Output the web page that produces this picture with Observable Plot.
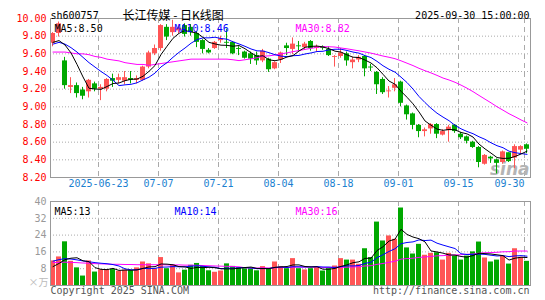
<!DOCTYPE html>
<html><head><meta charset="utf-8">
<script src="https://cdn.jsdelivr.net/npm/d3@7"></script>
<script src="https://cdn.jsdelivr.net/npm/@observablehq/plot@0.6"></script>
<style>
html,body{margin:0;padding:0;background:#fff;}
#wrap{position:relative;width:545px;height:300px;overflow:hidden;background:#fff;}
#wrap svg{position:absolute;left:0;}
</style></head><body><div id="wrap"></div>
<script>
const dates = ["06-11","06-12","06-13","06-16","06-17","06-18","06-19","06-20","06-23","06-24","06-25","06-26","06-27","06-30",
"07-01","07-02","07-03","07-04","07-07","07-08","07-09","07-10","07-11","07-14","07-15","07-16","07-17","07-18","07-21","07-22","07-23","07-24","07-25","07-28","07-29","07-30","07-31",
"08-01","08-04","08-05","08-06","08-07","08-08","08-11","08-12","08-13","08-14","08-15","08-18","08-19","08-20","08-21","08-22","08-25","08-26","08-27","08-28","08-29",
"09-01","09-02","09-03","09-04","09-05","09-08","09-09","09-10","09-11","09-12","09-15","09-16","09-17","09-18","09-19","09-22","09-23","09-24","09-25","09-26","09-29","09-30"];
const open = [9.72,9.83,9.52,9.22,9.24,9.19,9.17,9.26,9.20,9.20,9.32,9.30,9.29,9.32,9.30,9.30,9.45,9.60,9.66,9.90,
9.84,9.86,9.92,9.90,9.83,9.75,9.64,9.66,9.75,9.73,9.73,9.66,9.62,9.60,9.58,9.52,9.54,9.43,9.53,9.69,
9.65,9.69,9.67,9.74,9.66,9.68,9.65,9.56,9.57,9.60,9.50,9.53,9.57,9.45,9.39,9.31,9.17,9.21,9.28,9.01,
8.92,8.79,8.72,8.75,8.80,8.68,8.73,8.79,8.69,8.66,8.60,8.54,8.35,8.43,8.40,8.37,8.48,8.42,8.51,8.57];
const high = [9.84,9.96,9.56,9.33,9.27,9.22,9.31,9.28,9.25,9.32,9.37,9.37,9.40,9.40,9.35,9.46,9.63,9.70,9.93,9.93,
9.98,9.93,9.94,9.93,9.85,9.76,9.66,9.74,9.80,9.88,9.74,9.68,9.63,9.62,9.62,9.65,9.55,9.51,9.62,9.72,
9.78,9.74,9.73,9.75,9.70,9.69,9.68,9.58,9.66,9.62,9.56,9.58,9.58,9.48,9.40,9.33,9.23,9.32,9.29,9.02,
8.93,8.80,8.76,8.81,8.81,8.74,8.79,8.80,8.71,8.67,8.61,8.55,8.46,8.44,8.41,8.50,8.48,8.57,8.56,8.58];
const low = [9.68,9.79,9.20,9.15,9.10,9.08,9.10,9.17,9.07,9.17,9.22,9.26,9.25,9.26,9.26,9.29,9.43,9.58,9.63,9.75,
9.80,9.83,9.79,9.80,9.67,9.60,9.60,9.65,9.72,9.66,9.59,9.58,9.54,9.48,9.47,9.50,9.39,9.42,9.49,9.58,
9.59,9.63,9.64,9.63,9.62,9.64,9.57,9.45,9.55,9.46,9.43,9.50,9.34,9.40,9.14,9.14,9.10,9.17,9.00,8.85,
8.74,8.65,8.66,8.69,8.64,8.67,8.60,8.70,8.63,8.58,8.53,8.31,8.34,8.36,8.24,8.35,8.37,8.30,8.47,8.47];
const close = [9.83,9.94,9.24,9.24,9.15,9.12,9.30,9.20,9.22,9.31,9.29,9.33,9.33,9.30,9.32,9.45,9.61,9.66,9.92,9.79,
9.90,9.89,9.82,9.84,9.73,9.65,9.61,9.73,9.77,9.72,9.60,9.65,9.55,9.54,9.52,9.63,9.42,9.50,9.61,9.66,
9.71,9.68,9.71,9.66,9.68,9.66,9.58,9.57,9.61,9.52,9.53,9.56,9.43,9.44,9.25,9.16,9.18,9.25,9.04,8.91,
8.79,8.72,8.74,8.80,8.69,8.72,8.77,8.72,8.65,8.61,8.54,8.37,8.45,8.41,8.36,8.49,8.38,8.55,8.55,8.52];
const volume = [11.7,13.6,20.8,11.5,8.4,4.5,11.7,6.4,7.5,7.6,7.6,6.8,7.3,7.0,8.4,11.2,10.3,8.0,13.3,8.0,
9.7,6.0,7.3,9.6,10.5,9.0,7.0,6.3,6.9,10.3,9.1,8.5,8.0,8.0,7.0,9.0,8.0,11.2,9.0,8.0,
12.8,8.0,7.4,8.0,8.5,6.9,8.0,9.3,12.8,12.1,12.1,10.1,17.5,13.3,30.2,21.2,23.6,22.0,36.9,17.9,
15.0,19.6,14.4,15.3,15.6,12.1,15.3,14.0,12.1,14.0,16.0,20.7,13.1,11.2,12.1,14.0,10.2,17.5,13.4,11.5];
const ma5 = [9.73,9.75,9.70,9.61,9.480,9.338,9.210,9.202,9.198,9.230,9.264,9.270,9.296,9.312,9.314,9.346,9.402,9.468,9.592,9.686,
9.776,9.832,9.864,9.848,9.836,9.786,9.730,9.712,9.698,9.696,9.686,9.694,9.658,9.612,9.572,9.578,9.532,9.522,9.536,9.564,
9.580,9.632,9.674,9.684,9.688,9.678,9.658,9.630,9.620,9.588,9.562,9.558,9.530,9.496,9.442,9.368,9.292,9.256,9.176,9.108,
9.034,8.942,8.840,8.792,8.748,8.734,8.744,8.740,8.710,8.694,8.658,8.578,8.524,8.476,8.426,8.416,8.418,8.438,8.466,8.498];
const ma10 = [9.71,9.73,9.71,9.67,9.62,9.56,9.50,9.45,9.40,9.355,9.301,9.240,9.249,9.255,9.272,9.305,9.336,9.382,9.452,9.500,
9.561,9.617,9.666,9.720,9.761,9.781,9.781,9.788,9.773,9.766,9.736,9.712,9.685,9.655,9.634,9.632,9.613,9.590,9.574,9.568,
9.579,9.582,9.598,9.610,9.626,9.629,9.645,9.652,9.652,9.638,9.620,9.608,9.580,9.558,9.515,9.465,9.425,9.393,9.336,9.275,
9.201,9.117,9.048,8.984,8.928,8.884,8.843,8.790,8.751,8.721,8.696,8.661,8.632,8.593,8.560,8.537,8.498,8.481,8.471,8.462];
const ma30 = [9.62,9.62,9.62,9.61,9.60,9.60,9.59,9.57,9.56,9.54,9.53,9.52,9.50,9.49,9.48,9.48,9.47,9.48,9.49,9.50,
9.51,9.52,9.53,9.54,9.54,9.54,9.54,9.54,9.54,9.540,9.533,9.523,9.533,9.543,9.556,9.573,9.577,9.587,9.600,9.611,
9.625,9.637,9.650,9.662,9.674,9.681,9.680,9.677,9.666,9.657,9.645,9.634,9.621,9.608,9.592,9.575,9.561,9.545,9.521,9.494,
9.467,9.436,9.409,9.384,9.356,9.326,9.304,9.278,9.246,9.211,9.172,9.129,9.087,9.045,9.001,8.962,8.922,8.888,8.852,8.819];
const vma5 = [9.0,10.5,12.3,13.0,13.20,11.76,11.38,8.50,7.70,7.54,8.16,7.18,7.36,7.26,7.42,8.14,8.84,8.98,10.24,10.16,
9.86,9.00,8.86,8.12,8.62,8.48,8.68,8.48,7.94,7.90,7.92,8.22,8.56,8.78,8.12,8.10,8.00,8.64,8.84,9.04,
9.80,9.80,9.04,8.84,8.94,7.76,7.76,8.14,9.10,9.82,10.86,11.28,12.92,13.02,16.64,18.46,21.16,22.06,26.78,24.32,
23.08,22.28,20.76,16.44,15.98,15.40,14.54,14.46,13.82,13.50,14.28,15.36,15.18,15.00,14.62,14.22,12.12,13.00,13.44,13.32];
const vma10 = [11.6,12.3,12.8,12.6,12.2,11.7,11.3,10.9,10.6,10.37,9.96,9.28,7.93,7.48,7.48,8.15,8.01,8.17,8.75,8.79,
9.00,8.92,8.92,9.18,9.39,9.17,8.84,8.67,8.03,8.26,8.20,8.45,8.52,8.36,8.01,8.01,8.11,8.60,8.81,8.58,
8.95,8.90,8.84,8.84,8.99,8.78,8.78,8.59,8.97,9.38,9.31,9.52,10.53,11.06,13.23,14.66,16.22,17.49,19.90,20.48,
20.77,21.72,21.41,21.61,20.15,19.24,18.41,17.61,15.13,14.74,14.84,14.95,14.82,14.41,14.06,14.25,13.74,14.09,14.22,13.97];
const vma30 = [10.9,11.0,11.1,11.0,10.9,10.7,10.6,10.4,10.3,10.2,10.1,10.1,10.0,10.0,9.9,9.9,9.9,9.9,9.9,9.8,
9.8,9.8,9.7,9.7,9.6,9.5,9.4,9.3,9.2,9.14,9.05,8.88,8.46,8.34,8.29,8.44,8.32,8.48,8.53,8.54,
8.72,8.76,8.76,8.79,8.80,8.65,8.58,8.62,8.60,8.74,8.82,8.96,9.30,9.42,10.08,10.48,11.04,11.56,12.56,12.81,
13.01,13.38,13.59,13.84,14.12,14.23,14.47,14.56,14.67,14.87,14.97,15.40,15.59,15.69,15.81,16.05,16.12,16.40,16.42,16.40];
const priceTicks = [8.2,8.4,8.6,8.8,9.0,9.2,9.4,9.6,9.8,10.0];
const volTicks = [8,16,24,32,40];
const dateTickIdx = [8,18,28,38,48,58,68,79];
const dateTickLabels = ["2025-06-23","07-07","07-21","08-04","08-18","09-01","09-15","09-30"];

const UP = "#ff5555", DOWN = "#00a800";
const mono = "'DejaVu Sans Mono', 'Liberation Mono', monospace";
const cjk = "'Noto Sans CJK SC', sans-serif";
const rows = dates.map((d, i) => ({i, date: d, o: open[i], h: high[i], l: low[i], c: close[i], v: volume[i],
  col: close[i] >= open[i] ? UP : DOWN}));
const W = 5/6, C = 2/6, M = 0.42;
const lineSeries = (arr, color) => Plot.line(arr.map((v, i) => ({i, v})), {x: d => d.i + M, y: "v", stroke: color, strokeWidth: 1});
const one = [0];

const price = Plot.plot({
  width: 545, height: 190, marginLeft: 50, marginRight: 15, marginTop: 18, marginBottom: 13,
  x: {domain: [0, 80], axis: null},
  y: {domain: [8.2, 10.0], axis: null},
  color: {type: "identity"},
  style: {fontFamily: mono, fontSize: "10px", background: "transparent", overflow: "visible"},
  marks: [
    Plot.ruleY(priceTicks.slice(1, -1), {stroke: "#aaa", strokeDasharray: "1,2"}),
    Plot.ruleX(dateTickIdx, {x: d => d, stroke: "#aaa", strokeDasharray: "5,4"}),
    Plot.text(one, {frameAnchor: "bottom-right", dx: -1, dy: -3, text: () => "sina", fontSize: 17, fontStyle: "italic", fontWeight: "bold", fontFamily: "'DejaVu Sans', sans-serif", fill: "#b4b4b4"}),
    Plot.ruleX(rows, {x: d => d.i + C, y1: "l", y2: "h", stroke: "col"}),
    Plot.rect(rows, {x1: d => d.i, x2: d => d.i + W, y1: d => Math.min(d.o, d.c), y2: d => Math.max(d.o, d.c), fill: "col"}),
    lineSeries(ma30, "#ff00ff"),
    lineSeries(ma10, "#0000ff"),
    lineSeries(ma5, "#000000"),
    Plot.frame({stroke: "#999"}),
    Plot.text(priceTicks, {y: d => d, frameAnchor: "left", dx: -4, textAnchor: "end", text: d => d.toFixed(2), fill: "#ff0000"}),
    Plot.text(dateTickIdx.slice(0, -1), {x: d => d, frameAnchor: "bottom", dy: 9, text: (d, i) => dateTickLabels[i], fill: "#1b7fd0"}),
    Plot.text([dateTickIdx[dateTickIdx.length - 1]], {x: d => d, frameAnchor: "bottom", dy: 9, textAnchor: "end", text: () => dateTickLabels[dateTickLabels.length - 1], fill: "#1b7fd0"}),
    Plot.text(one, {frameAnchor: "top-left", dy: -7, text: () => "sh600757", fill: "#000"}),
    Plot.text(one, {frameAnchor: "top-left", dx: 72, dy: -7, text: () => "长江传媒 - 日K线图", fontFamily: cjk, fontSize: 12, fill: "#000"}),
    Plot.text(one, {frameAnchor: "top-right", dx: -1, dy: -7, text: () => "2025-09-30 15:00:00", fill: "#000"}),
    Plot.text(one, {frameAnchor: "top-left", dx: 4, dy: 6, text: () => "MA5:" + ma5[ma5.length - 1].toFixed(2), fill: "#000"}),
    Plot.text(one, {frameAnchor: "top-left", dx: 124, dy: 6, text: () => "MA10:" + ma10[ma10.length - 1].toFixed(2), fill: "#0000ff"}),
    Plot.text(one, {frameAnchor: "top-left", dx: 245, dy: 6, text: () => "MA30:" + ma30[ma30.length - 1].toFixed(2), fill: "#ff00ff"})
  ]
});
price.style.top = "0px";

const vol = Plot.plot({
  width: 545, height: 110, marginLeft: 50, marginRight: 15, marginTop: 11, marginBottom: 15,
  x: {domain: [0, 80], axis: null},
  y: {domain: [0, 40], axis: null},
  color: {type: "identity"},
  style: {fontFamily: mono, fontSize: "10px", background: "transparent", overflow: "visible"},
  marks: [
    Plot.ruleY(volTicks.slice(0, -1), {stroke: "#aaa", strokeDasharray: "1,2"}),
    Plot.ruleX(dateTickIdx, {x: d => d, stroke: "#aaa", strokeDasharray: "5,4"}),
    Plot.rect(rows, {x1: d => d.i, x2: d => d.i + W, y1: 0, y2: "v", fill: "col"}),
    lineSeries(vma30, "#ff00ff"),
    lineSeries(vma10, "#0000ff"),
    lineSeries(vma5, "#000000"),
    Plot.frame({stroke: "#999"}),
    Plot.text(volTicks, {y: d => d, frameAnchor: "left", dx: -4, textAnchor: "end", text: d => String(d), fill: "#999"}),
    Plot.text(one, {frameAnchor: "bottom-left", dx: -22, dy: 0, text: () => "×万", fontFamily: cjk, fontSize: 10, fill: "#bbb"}),
    Plot.text(one, {frameAnchor: "bottom-left", dy: 8, text: () => "Copyright 2025 SINA.COM", fill: "#555"}),
    Plot.text(one, {frameAnchor: "bottom-right", dx: -1, dy: 8, textAnchor: "end", text: () => "http://finance.sina.com.cn", fill: "#555"}),
    Plot.text(one, {frameAnchor: "top-left", dx: 4, dy: 6, text: () => "MA5:" + Math.round(vma5[vma5.length - 1]), fill: "#000"}),
    Plot.text(one, {frameAnchor: "top-left", dx: 124, dy: 6, text: () => "MA10:" + Math.round(vma10[vma10.length - 1]), fill: "#0000ff"}),
    Plot.text(one, {frameAnchor: "top-left", dx: 245, dy: 6, text: () => "MA30:" + Math.round(vma30[vma30.length - 1]), fill: "#ff00ff"})
  ]
});
vol.style.top = "190px";

const wrap = document.getElementById("wrap");
wrap.appendChild(price);
wrap.appendChild(vol);
</script>
</body></html>
